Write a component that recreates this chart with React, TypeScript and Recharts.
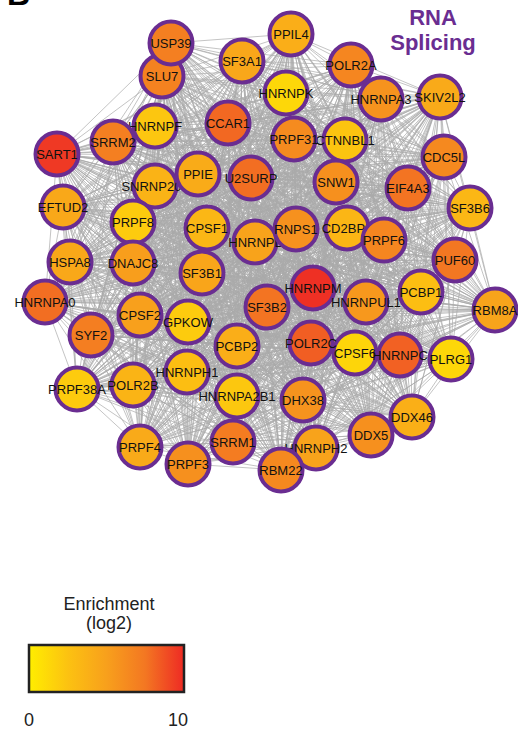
import React from "react";
import { ScatterChart, Scatter, XAxis, YAxis, ReferenceLine } from "recharts";

// Protein interaction network for the RNA splicing cluster.
// Node order is draw order (later nodes paint over earlier ones).
const GENES = [
  "SLU7", "USP39", "SF3A1", "PPIL4", "POLR2A", "HNRNPK", "SKIV2L2", "HNRNPA3",
  "HNRNPF", "CCAR1", "CTNNBL1", "PRPF31", "SRRM2", "SART1", "CDC5L", "SNRNP200",
  "PPIE", "U2SURP", "SNW1", "EIF4A3", "SF3B6", "EFTUD2", "PRPF8", "CPSF1",
  "HNRNPL", "RNPS1", "CD2BP2", "PRPF6", "HSPA8", "DNAJC8", "SF3B1", "PUF60",
  "HNRNPA0", "HNRNPM", "SF3B2", "HNRNPUL1", "PCBP1", "RBM8A", "CPSF2", "GPKOW",
  "SYF2", "PCBP2", "CPSF6", "POLR2C", "HNRNPC", "PLRG1", "HNRNPH1", "POLR2B",
  "PRPF38A", "HNRNPA2B1", "DHX38", "DDX46", "PRPF4", "SRRM1", "PRPF3", "DDX5",
  "HNRNPH2", "RBM22",
];

// Layout coordinates of each node.
const LAYOUT_X = [
  162, 171, 242, 291, 351, 286, 440, 381,
  155, 228, 345, 294, 113, 57, 444, 155,
  198, 251, 336, 408, 470, 63, 133, 207,
  255, 296, 347, 384, 70, 133, 202, 455,
  45, 313, 267, 366, 421, 495, 140, 188,
  91, 237, 355, 311, 400, 451, 187, 133,
  77, 237, 303, 412, 140, 233, 188, 371,
  316, 281,
];
const LAYOUT_Y = [
  76, 43, 61, 34, 65, 93, 97, 99,
  126, 123, 140, 139, 142, 154, 157, 186,
  174, 178, 182, 188, 208, 207, 222, 228,
  242, 229, 228, 240, 262, 263, 273, 260,
  302, 288, 307, 302, 292, 310, 315, 322,
  335, 346, 353, 343, 355, 359, 372, 385,
  389, 396, 400, 417, 447, 442, 464, 435,
  448, 470,
];

// Enrichment (log2) per node.
const ENRICHMENT = [
  6.8, 7.0, 4.5, 4.0, 6.6, 1.3, 4.3, 5.8,
  2.3, 8.0, 2.4, 6.3, 7.0, 9.5, 6.4, 3.6,
  4.2, 7.8, 6.0, 7.6, 3.3, 4.4, 2.0, 3.3,
  4.8, 5.9, 3.4, 6.6, 4.4, 5.1, 4.6, 7.5,
  7.8, 9.8, 7.6, 5.5, 2.8, 4.7, 5.0, 2.0,
  7.1, 4.0, 1.4, 8.3, 8.2, 1.3, 2.8, 3.5,
  2.0, 2.2, 5.8, 3.9, 4.3, 7.2, 6.0, 6.0,
  4.8, 6.4,
];

// Colour scale for enrichment.
const SCALE_TICKS = [0, 10];
const SCALE_STOPS = ["#FFEE00", "#FCC211", "#F8A01C", "#F37722", "#EE2A24"];

const TITLE_LINES = ["RNA", "Splicing"];
const PURPLE = "#6A2D91";
const FONT = "'Liberation Sans', Arial, Helvetica, sans-serif";
const W = 518;
const H = 729;

const hexToRgb = (h: string) => [
  parseInt(h.slice(1, 3), 16),
  parseInt(h.slice(3, 5), 16),
  parseInt(h.slice(5, 7), 16),
];

function enrichmentColor(v: number): string {
  const [lo, hi] = SCALE_TICKS;
  const t = Math.max(0, Math.min(1, (v - lo) / (hi - lo))) * (SCALE_STOPS.length - 1);
  const i = Math.min(SCALE_STOPS.length - 2, Math.floor(t));
  const f = t - i;
  const a = hexToRgb(SCALE_STOPS[i]);
  const b = hexToRgb(SCALE_STOPS[i + 1]);
  const c = a.map((av, k) => Math.round(av + (b[k] - av) * f));
  return `rgb(${c[0]},${c[1]},${c[2]})`;
}

const nodes = GENES.map((name, i) => ({
  name,
  x: LAYOUT_X[i],
  y: LAYOUT_Y[i],
  enrichment: ENRICHMENT[i],
}));

// Dense interaction set: every pair of cluster members is linked.
const edges: { a: number; b: number }[] = [];
for (let i = 0; i < nodes.length; i++) {
  for (let j = i + 1; j < nodes.length; j++) edges.push({ a: i, b: j });
}

const NodeShape = (props: any) => {
  const { cx, cy, payload } = props;
  if (cx == null || cy == null) return null;
  return (
    <g>
      <circle
        cx={cx}
        cy={cy}
        r={21.5}
        fill={enrichmentColor(payload.enrichment)}
        stroke={PURPLE}
        strokeWidth={4}
      />
      <text
        x={cx}
        y={cy}
        textAnchor="middle"
        dominantBaseline="central"
        fontFamily={FONT}
        fontSize={13}
        fill="#111"
      >
        {payload.name}
      </text>
    </g>
  );
};

export default function App() {
  return (
    <div style={{ position: "absolute", left: 0, top: 0, width: W, height: H, background: "#fff" }}>
      <ScatterChart width={W} height={H} margin={{ top: 0, right: 0, bottom: 0, left: 0 }}>
        <XAxis type="number" dataKey="x" domain={[0, W]} hide allowDataOverflow />
        <YAxis type="number" dataKey="y" domain={[0, H]} reversed hide allowDataOverflow />
        {edges.map((e, k) => (
          <ReferenceLine
            key={k}
            segment={[
              { x: nodes[e.a].x, y: nodes[e.a].y },
              { x: nodes[e.b].x, y: nodes[e.b].y },
            ]}
            stroke="#ababab"
            strokeWidth={0.7}
            ifOverflow="visible"
          />
        ))}
        <Scatter data={nodes} shape={NodeShape} isAnimationActive={false} />
      </ScatterChart>
      <svg
        width={W}
        height={H}
        style={{ position: "absolute", left: 0, top: 0, pointerEvents: "none" }}
      >
        <defs>
          <linearGradient id="enrichGrad" x1="0" x2="1" y1="0" y2="0">
            {SCALE_STOPS.map((c, i) => (
              <stop key={i} offset={i / (SCALE_STOPS.length - 1)} stopColor={c} />
            ))}
          </linearGradient>
        </defs>
        <text x={7} y={5} fontFamily={FONT} fontSize={32} fontWeight="bold" fill="#000">
          B
        </text>
        {TITLE_LINES.map((t, i) => (
          <text
            key={t}
            x={433}
            y={25 + i * 25}
            textAnchor="middle"
            fontFamily={FONT}
            fontSize={22}
            fontWeight="bold"
            fill={PURPLE}
          >
            {t}
          </text>
        ))}
        <text x={109} y={610} textAnchor="middle" fontFamily={FONT} fontSize={18} fill="#222">
          Enrichment
        </text>
        <text x={109} y={629} textAnchor="middle" fontFamily={FONT} fontSize={18} fill="#222">
          (log2)
        </text>
        <rect x={29} y={645} width={155} height={47} fill="url(#enrichGrad)" stroke="#222" strokeWidth={2.5} />
        {SCALE_TICKS.map((v, i) => (
          <text
            key={v}
            x={i === 0 ? 29 : 178}
            y={726}
            textAnchor="middle"
            fontFamily={FONT}
            fontSize={18}
            fill="#222"
          >
            {v}
          </text>
        ))}
      </svg>
    </div>
  );
}
